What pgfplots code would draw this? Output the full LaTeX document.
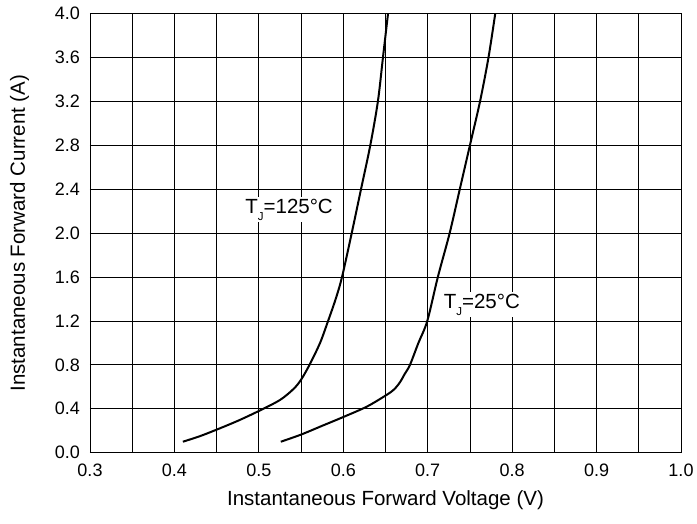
\documentclass[border=0pt]{standalone}
\usepackage{fontspec}
\setmainfont{Liberation Sans}
\usepackage{pgfplots}
\pgfplotsset{compat=1.18}
\newcommand{\TJ}{T\raisebox{-7.4bp}{\fontsize{11.5bp}{12bp}\selectfont J}}

\begin{document}
\begin{tikzpicture}
\path[use as bounding box] (-90bp,-71.3bp) rectangle (607bp,452.7bp);
\begin{axis}[
    scale only axis,
    width=591bp, height=439.2bp,
    xmin=0.3, xmax=1.0,
    ymin=0, ymax=4.0,
    xtick={0.3,0.4,0.5,0.6,0.7,0.8,0.9,1.0},
    ytick={0,0.4,0.8,1.2,1.6,2.0,2.4,2.8,3.2,3.6,4.0},
    minor x tick num=1,
    grid=both,
    major grid style={black, line width=0.8bp},
    minor grid style={black, line width=0.8bp},
    axis line style={black, line width=0.8bp},
    major tick length=0pt, minor tick length=0pt,
    /pgf/number format/assume math mode=true,
    tick label style={font=\fontsize{18bp}{20bp}\selectfont,
        /pgf/number format/fixed,
        /pgf/number format/fixed zerofill,
        /pgf/number format/precision=1},
    xticklabel style={anchor=north, inner sep=0pt, yshift=-11bp},
    yticklabel style={anchor=east, inner sep=0pt, xshift=-10bp},
    xlabel={Instantaneous Forward Voltage (V)},
    ylabel={Instantaneous Forward Current (A)},
    label style={font=\fontsize{20.5bp}{24bp}\selectfont, inner sep=0pt},
    xlabel style={at={(axis description cs:0.5,-0.1191)}, anchor=base},
    ylabel style={at={(axis description cs:-0.1100,0.5)}, anchor=base},
]
    % TJ = 125 C
    \addplot[black, line width=2bp, smooth] coordinates {
        (0.410, 0.10)
        (0.430, 0.15)
        (0.450, 0.21)
        (0.475, 0.29)
        (0.500, 0.38)
        (0.525, 0.48)
        (0.541, 0.58)
        (0.550, 0.665)
        (0.560, 0.80)
        (0.5725, 1.00)
        (0.582, 1.20)
        (0.591, 1.40)
        (0.5985, 1.60)
        (0.610, 2.00)
        (0.621, 2.40)
        (0.632, 2.80)
        (0.641, 3.20)
        (0.647, 3.60)
        (0.653, 4.00)
    };
    % TJ = 25 C
    \addplot[black, line width=2bp, smooth] coordinates {
        (0.526, 0.10)
        (0.550, 0.165)
        (0.575, 0.245)
        (0.600, 0.325)
        (0.628, 0.42)
        (0.651, 0.525)
        (0.660, 0.575)
        (0.667, 0.64)
        (0.673, 0.72)
        (0.679, 0.80)
        (0.689, 1.00)
        (0.6995, 1.20)
        (0.712, 1.60)
        (0.726, 2.00)
        (0.738, 2.40)
        (0.750, 2.80)
        (0.762, 3.20)
        (0.772, 3.60)
        (0.780, 4.00)
    };
    \node[fill=white, inner sep=1.5bp, anchor=base west,
          font=\fontsize{20.5bp}{24bp}\selectfont]
        at (axis cs:0.482,2.183) {\TJ=125°C};
    \node[fill=white, inner sep=1.5bp, anchor=base west,
          font=\fontsize{20.5bp}{24bp}\selectfont]
        at (axis cs:0.717,1.315) {\TJ=25°C};
\end{axis}
\end{tikzpicture}
\end{document}
